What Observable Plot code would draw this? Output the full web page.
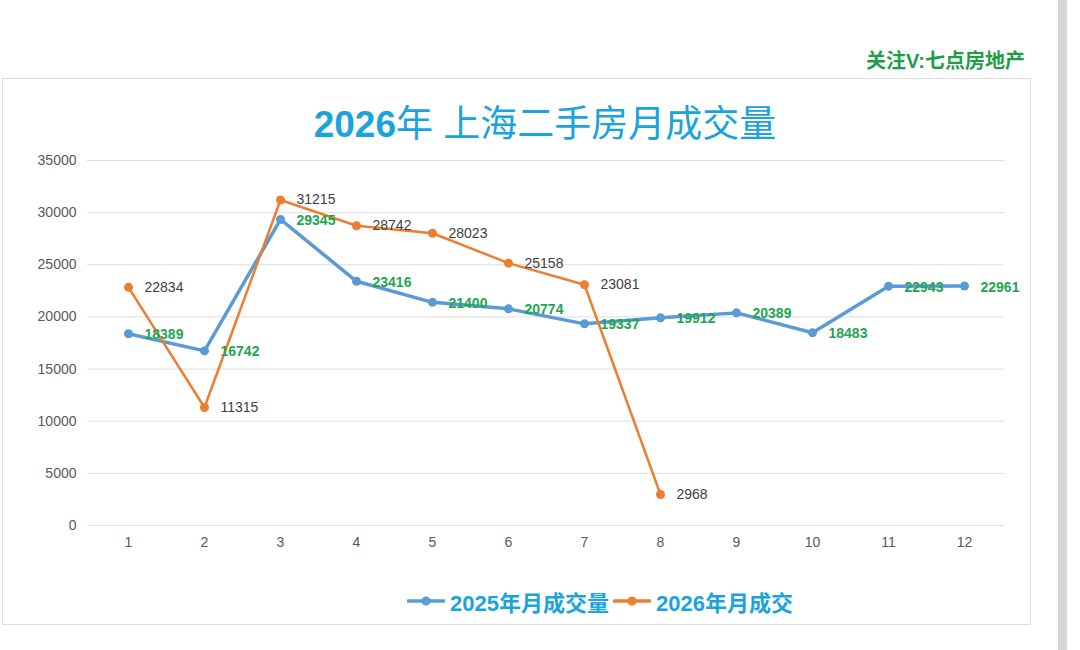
<!DOCTYPE html>
<html>
<head>
<meta charset="utf-8">
<script src="https://cdn.jsdelivr.net/npm/d3@7"></script>
<script src="https://cdn.jsdelivr.net/npm/@observablehq/plot@0.6"></script>
<style>
  html, body { margin: 0; padding: 0; background: #fff; }
  #page { position: relative; width: 1080px; height: 650px; overflow: hidden; background: #fff;
          font-family: "Liberation Sans", Arial, "Noto Sans CJK SC", sans-serif; }
  #watermark { position: absolute; right: 55px; top: 45px; font-size: 20px; font-weight: bold;
               color: #1c9f44; font-family: "Liberation Sans", "Noto Sans CJK SC", sans-serif; }
  #box { position: absolute; left: 2px; top: 78px; width: 1027px; height: 545px;
         border: 1px solid #dcdcdc; background: #fff; }
  #title { position: absolute; left: 0; top: 94px; width: 1090px; text-align: center;
           font-size: 37px; color: #1aa3dc; font-family: "Liberation Sans", "Noto Sans CJK SC", sans-serif; }
  #title b { font-weight: bold; }
  #chart { position: absolute; left: 2px; top: 140px; }
  #legend { position: absolute; top: 585px; left: 0; width: 1200px; display: flex; justify-content: center;
            gap: 4px; font-size: 22px; font-weight: bold; color: #1aa3dc;
            font-family: "Liberation Sans", "Noto Sans CJK SC", sans-serif; }
  #legend .item { display: flex; align-items: center; gap: 5px; }
  #scroll { position: absolute; left: 1058px; top: 0; width: 9px; height: 650px; background: #d6d6d6; }
</style>
</head>
<body>
<div id="page">
  <div id="watermark">关注V:七点房地产</div>
  <div id="box"></div>
  <div id="title"><b>2026</b>年 上海二手房月成交量</div>
  <div id="chart"></div>
  <div id="legend"></div>
  <div id="scroll"></div>
</div>
<script>
// ---- data ----
const months = [1, 2, 3, 4, 5, 6, 7, 8, 9, 10, 11, 12];
const sales2025 = [18389, 16742, 29345, 23416, 21400, 20774, 19337, 19912, 20389, 18483, 22943, 22961];
const sales2026 = [22834, 11315, 31215, 28742, 28023, 25158, 23081, 2968];
const seriesNames = ["2025年月成交量", "2026年月成交"];
const seriesColors = ["#5b9bd5", "#ed7d31"];
const yTicks = [0, 5000, 10000, 15000, 20000, 25000, 30000, 35000];

const d2025 = sales2025.map((v, i) => ({month: months[i], value: v}));
const d2026 = sales2026.map((v, i) => ({month: months[i], value: v}));

const chart = Plot.plot({
  width: 1028,
  height: 420,
  marginLeft: 85,
  marginRight: 26,
  marginTop: 20,
  marginBottom: 35,
  style: {fontFamily: "'Liberation Sans', Arial, sans-serif", fontSize: "14px", color: "#595959", background: "transparent"},
  x: {type: "point", domain: months, padding: 0.5, label: null, tickSize: 0, tickPadding: 12},
  y: {domain: [0, 35000], ticks: yTicks, label: null, tickSize: 0, tickPadding: 11, tickFormat: d => String(d)},
  marks: [
    Plot.gridY(yTicks, {stroke: "#dedede", strokeOpacity: 1, strokeWidth: 1}),
    Plot.axisX({tickSize: 0, tickPadding: 12, fill: "#595959", fontSize: 14}),
    Plot.axisY({ticks: yTicks, tickSize: 0, tickPadding: 11, fill: "#595959", fontSize: 14, tickFormat: d => String(d)}),
    Plot.line(d2025, {x: "month", y: "value", stroke: seriesColors[0], strokeWidth: 3.5}),
    Plot.dot(d2025, {x: "month", y: "value", r: 4.5, fill: seriesColors[0], stroke: "none"}),
    Plot.line(d2026, {x: "month", y: "value", stroke: seriesColors[1], strokeWidth: 2.5}),
    Plot.dot(d2026, {x: "month", y: "value", r: 4.5, fill: seriesColors[1], stroke: "none"}),
    Plot.text(d2025, {x: "month", y: "value", text: d => String(d.value), dx: 16, dy: 1, textAnchor: "start",
      fill: "#1fa552", fontWeight: "bold", fontSize: 14}),
    Plot.text(d2026, {x: "month", y: "value", text: d => String(d.value), dx: 16, dy: 0, textAnchor: "start",
      fill: "#404040", fontSize: 14})
  ]
});
document.getElementById("chart").appendChild(chart);

// ---- legend ----
const legend = document.getElementById("legend");
seriesNames.forEach((name, i) => {
  const item = document.createElement("div");
  item.className = "item";
  item.innerHTML = `<svg width="38" height="12"><line x1="1" y1="6" x2="37" y2="6" stroke="${seriesColors[i]}" stroke-width="3.5" stroke-linecap="round"/><circle cx="19" cy="6" r="4.5" fill="${seriesColors[i]}"/></svg><span>${name}</span>`;
  legend.appendChild(item);
});
</script>
</body>
</html>
